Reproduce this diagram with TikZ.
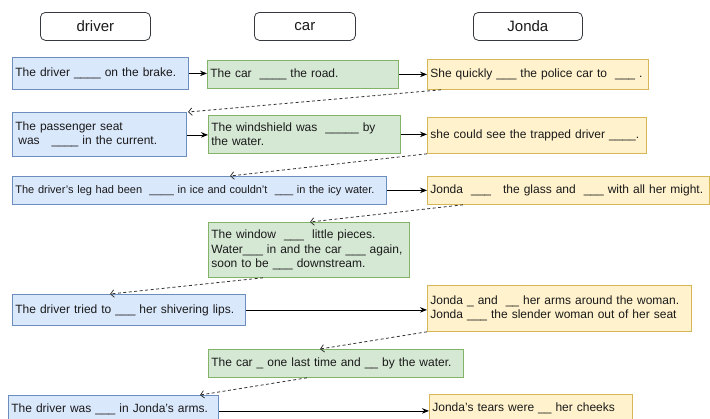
\documentclass[tikz,border=0pt]{standalone}
\usepackage{fontspec}
\setmainfont{Liberation Sans}
\usetikzlibrary{arrows.meta}
\definecolor{bfill}{HTML}{DAE8FC}\definecolor{bline}{HTML}{6C8EBF}
\definecolor{gfill}{HTML}{D5E8D4}\definecolor{gline}{HTML}{82B366}
\definecolor{yfill}{HTML}{FFF2CC}\definecolor{yline}{HTML}{D6B656}
\definecolor{hline}{HTML}{36393D}
\definecolor{txt}{HTML}{1A1A1A}
\tikzset{
  box/.style={draw, anchor=north west, inner xsep=3pt, inner ysep=0pt, align=left,
    font=\fontsize{12}{14.5}\selectfont, text=txt, line width=0.8pt},
  bbox/.style={box, fill=bfill, draw=bline},
  gbox/.style={box, fill=gfill, draw=gline},
  ybox/.style={box, fill=yfill, draw=yline},
  sz/.style 2 args={minimum width=#1pt, minimum height=#2pt, text width=#1pt-6pt},
  head/.style={draw=hline, fill=white, rounded corners=5pt, anchor=north west,
    inner sep=0pt, font=\fontsize{15}{18}\selectfont, text=txt, line width=0.8pt},
  solid arrow/.style={-{Stealth[length=7pt,width=5.5pt]}, line width=0.8pt, black},
  dash arrow/.style={-{Straight Barb[length=3.5pt,width=7.5pt]}, line width=0.8pt, black!80,
    dash pattern=on 3pt off 2.5pt},
}
\begin{document}
\begin{tikzpicture}[x=1pt,y=-1pt]
\useasboundingbox (0,0) rectangle (710,418);
% headers
\node[head, minimum width=110pt, minimum height=28pt] (hd) at (40,12) {driver};
\node[head, minimum width=101pt, minimum height=28pt] (hc) at (254,12) {car};
\node[head, minimum width=109pt, minimum height=28pt] (hj) at (473,12) {Jonda};
% row 1
\node[bbox, sz={176}{32}] (b1) at (12,57) {The driver \_\_\_\_ on the brake.};
\node[gbox, sz={191}{28}] (g1) at (207,60) {The car \ \_\_\_\_ the road.};
\node[ybox, sz={221}{30}] (y1) at (427,59) {She quickly \_\_\_ the police car to \ \_\_\_ .};
% row 2
\node[bbox, sz={174}{44}] (b2) at (12,112) {The passenger seat\\\hspace{3pt}was \ \ \_\_\_\_ in the current.};
\node[gbox, sz={192}{38}] (g2) at (208,115) {The windshield was \ \_\_\_\_\_ by\\the water.};
\node[ybox, sz={219}{36}] (y2) at (427,117) {she could see the trapped driver \_\_\_\_.};
% row 3
\node[bbox, sz={374}{28}, font=\fontsize{11}{13}\selectfont] (b3) at (12,176) {\mbox{The driver's leg had been \ \_\_\_\_ in ice and couldn't \ \_\_\_ in the icy water.}};
\node[ybox, sz={282}{28}] (y3) at (427,176) {\mbox{Jonda \ \_\_\_ \ \ the glass and \ \_\_\_ with all her might.}};
% row 4
\node[gbox, sz={201}{55}] (g4) at (208,222) {The window \ \_\_\_ \ little pieces.\\Water\_\_\_ in and the car \_\_\_ again,\\soon to be \_\_\_ downstream.};
% row 5
\node[bbox, sz={233}{31}] (b5) at (12,294) {The driver tried to \_\_\_ her shivering lips.};
\node[ybox, sz={264}{46}] (y5) at (427,285) {Jonda \_ and \ \_\_ her arms around the woman.\\Jonda \_\_\_ the slender woman out of her seat};
% row 6
\node[gbox, sz={255}{28}] (g6) at (208,349) {The car \_ one last time and \_\_ by the water.};
% row 7
\node[bbox, sz={210}{28}] (b7) at (8,395) {The driver was \_\_\_ in Jonda's arms.};
\node[ybox, sz={203}{28}] (y7) at (429,394) {Jonda's tears were \_\_ her cheeks};
% solid connectors
\draw[solid arrow] (b1.east) -- (b1.east -| g1.west);
\draw[solid arrow] (g1.east) -- (g1.east -| y1.west);
\draw[solid arrow] ([yshift=-0.5pt]b2.east) -- ([yshift=-0.5pt]b2.east -| g2.west);
\draw[solid arrow] (g2.east) -- (g2.east -| y2.west);
\draw[solid arrow] (b3.east) -- (b3.east -| y3.west);
\draw[solid arrow] (b5.east) -- (b5.east -| y5.west);
\draw[solid arrow] ([yshift=-1.5pt]b7.east) -- ([yshift=-1.5pt]b7.east -| y7.west);
% dashed connectors
\draw[dash arrow] ([xshift=14pt]y1.south west) -- ([xshift=176pt]b2.north west);
\draw[dash arrow] (y2.south west) -- ([xshift=218pt]b3.north west);
\draw[dash arrow] ([xshift=36pt]y3.south west) -- ([xshift=102pt]g4.north west);
\draw[dash arrow] ([xshift=55pt]g4.south west) -- ([xshift=98pt]b5.north west);
\draw[dash arrow] (y5.south west) -- ([xshift=112pt]g6.north west);
\draw[dash arrow] ([xshift=99pt]g6.south west) -- ([xshift=192pt]b7.north west);
\end{tikzpicture}
\end{document}
